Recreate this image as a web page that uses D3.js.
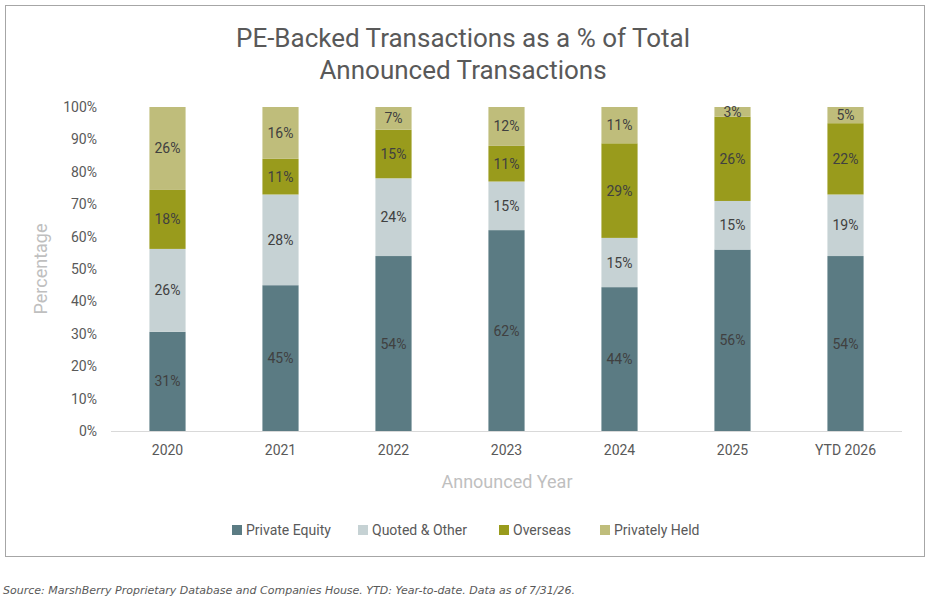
<!DOCTYPE html>
<html><head><meta charset="utf-8">
<script src="https://cdn.jsdelivr.net/npm/d3@7"></script>
<style>body{margin:0;background:#fff;font-family:Verdana,"DejaVu Sans",sans-serif;}</style>
</head><body>
<svg id="chart" width="934" height="609"></svg>
<script>
const years = ["2020","2021","2022","2023","2024","2025","YTD 2026"];
const seriesNames = ["Private Equity","Quoted & Other","Overseas","Privately Held"];
const privateEquity = [30.6,45,54,62,44.4,56,54];
const quotedOther = [25.6,28,24,15,15.2,15,19];
const overseas = [18.2,11,15,11,29.2,26,22];
const privatelyHeld = [25.6,16,7,12,11.2,3,5];
const colors = ["#5b7b83","#c6d2d4","#999b1c","#bfbd7b"];
const yTicks = [0,10,20,30,40,50,60,70,80,90,100];

const svg = d3.select("#chart");
svg.append("rect").attr("x",5.5).attr("y",5.5).attr("width",919).attr("height",551)
  .attr("fill","#fff").attr("stroke","#a6a6a6");

svg.append("text").attr("x",463).attr("y",47).attr("text-anchor","middle")
  .attr("font-family","Roboto, 'DejaVu Sans', sans-serif").attr("font-size",26).attr("fill","#595959")
  .text("PE-Backed Transactions as a % of Total");
svg.append("text").attr("x",463).attr("y",79).attr("text-anchor","middle")
  .attr("font-family","Roboto, 'DejaVu Sans', sans-serif").attr("font-size",26).attr("fill","#595959")
  .text("Announced Transactions");

const x = d3.scaleBand().domain(years).range([111,902]).paddingInner(0.68).paddingOuter(0.34);
const y = d3.scaleLinear().domain([0,100]).range([431,107]);

const rows = years.map((yr,i)=>({year:yr,"Private Equity":privateEquity[i],"Quoted & Other":quotedOther[i],"Overseas":overseas[i],"Privately Held":privatelyHeld[i]}));
const stack = d3.stack().keys(seriesNames)(rows);

const yAxis = svg.append("g").attr("transform","translate(100,0)")
  .call(d3.axisLeft(y).tickValues(yTicks).tickFormat(d=>d+"%").tickSize(0));
yAxis.select(".domain").remove();
yAxis.selectAll("text").attr("font-size",14).attr("fill","#595959").attr("font-family","Roboto, 'DejaVu Sans', sans-serif");

svg.append("line").attr("x1",111).attr("x2",902).attr("y1",431.5).attr("y2",431.5).attr("stroke","#d9d9d9");

const xAxis = svg.append("g").attr("transform","translate(0,431)")
  .call(d3.axisBottom(x).tickSize(0).tickPadding(14));
xAxis.select(".domain").remove();
xAxis.selectAll("text").attr("font-size",14).attr("fill","#595959").attr("font-family","Roboto, 'DejaVu Sans', sans-serif");

stack.forEach((s,si)=>{
  const g = svg.append("g");
  g.selectAll("rect").data(s).join("rect")
    .attr("x",d=>x(d.data.year)).attr("width",x.bandwidth())
    .attr("y",d=>y(d[1])).attr("height",d=>y(d[0])-y(d[1]))
    .attr("fill",colors[si]);
  g.selectAll("text").data(s).join("text")
    .attr("x",d=>x(d.data.year)+x.bandwidth()/2)
    .attr("y",d=>(y(d[0])+y(d[1]))/2+5)
    .attr("text-anchor","middle").attr("font-size",14)
    .attr("font-family","Roboto, 'DejaVu Sans', sans-serif")
    .attr("fill","#404040")
    .text(d=>Math.round(d[1]-d[0])+"%");
});

svg.append("text").attr("transform","translate(47,269) rotate(-90)").attr("text-anchor","middle")
  .attr("font-size",18).attr("fill","#bfbfbf").attr("font-family","Roboto, 'DejaVu Sans', sans-serif").text("Percentage");
svg.append("text").attr("x",507).attr("y",488).attr("text-anchor","middle")
  .attr("font-size",18).attr("fill","#bfbfbf").attr("font-family","Roboto, 'DejaVu Sans', sans-serif").text("Announced Year");

const legX = [232,358,499,600];
const leg = svg.append("g");
seriesNames.forEach((n,i)=>{
  leg.append("rect").attr("x",legX[i]).attr("y",525).attr("width",10).attr("height",10).attr("fill",colors[i]);
  leg.append("text").attr("x",legX[i]+14).attr("y",535).attr("font-size",14).attr("fill","#595959")
    .attr("font-family","Roboto, 'DejaVu Sans', sans-serif").text(n);
});

svg.append("text").attr("x",3).attr("y",594).attr("font-size",11).attr("font-style","italic").attr("fill","#595959")
  .attr("font-family","Verdana, 'DejaVu Sans', sans-serif")
  .text("Source: MarshBerry Proprietary Database and Companies House. YTD: Year-to-date. Data as of 7/31/26.");
</script>
</body></html>
